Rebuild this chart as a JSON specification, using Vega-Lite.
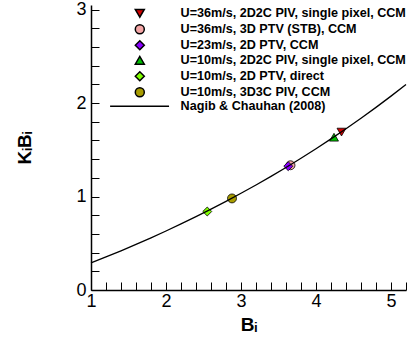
{
  "$schema": "https://vega.github.io/schema/vega-lite/v6.json",
  "width": 315,
  "height": 285,
  "autosize": "none",
  "padding": {"left": 91, "top": 5, "right": 2, "bottom": 64},
  "background": "white",
  "config": {
    "view": {"stroke": null},
    "font": "Liberation Sans",
    "axis": {
      "grid": false,
      "domainColor": "black",
      "domainWidth": 1.5,
      "tickColor": "black",
      "tickWidth": 1,
      "tickSize": -8,
      "labelColor": "black",
      "labelFont": "Liberation Sans",
      "labelFontSize": 18,
      "labelOverlap": false,
      "labelFlush": false,
      "titleColor": "black",
      "titleFont": "Liberation Sans",
      "titleFontWeight": "bold",
      "titleFontSize": 19
    }
  },
  "datasets": {
    "curve": [
      {"B": 1.0, "KB": 0.2895},
      {"B": 1.2, "KB": 0.3534},
      {"B": 1.4, "KB": 0.4195},
      {"B": 1.6, "KB": 0.4877},
      {"B": 1.8, "KB": 0.5584},
      {"B": 2.0, "KB": 0.6313},
      {"B": 2.2, "KB": 0.7068},
      {"B": 2.4, "KB": 0.7848},
      {"B": 2.6, "KB": 0.8655},
      {"B": 2.8, "KB": 0.9488},
      {"B": 3.0, "KB": 1.035},
      {"B": 3.2, "KB": 1.1242},
      {"B": 3.4, "KB": 1.2163},
      {"B": 3.6, "KB": 1.3115},
      {"B": 3.8, "KB": 1.41},
      {"B": 4.0, "KB": 1.5118},
      {"B": 4.2, "KB": 1.617},
      {"B": 4.4, "KB": 1.7258},
      {"B": 4.6, "KB": 1.8383},
      {"B": 4.8, "KB": 1.9545},
      {"B": 5.0, "KB": 2.0748},
      {"B": 5.2, "KB": 2.199}
    ],
    "measurements": [
      {"series": "U=36m/s, 2D2C PIV, single pixel, CCM", "B": 4.34, "KB": 1.69},
      {"series": "U=36m/s, 3D PTV (STB), CCM", "B": 3.66, "KB": 1.335},
      {"series": "U=23m/s, 2D PTV, CCM", "B": 3.63, "KB": 1.325},
      {"series": "U=10m/s, 2D2C PIV, single pixel, CCM", "B": 4.24, "KB": 1.635},
      {"series": "U=10m/s, 2D PTV, direct", "B": 2.55, "KB": 0.84},
      {"series": "U=10m/s, 3D3C PIV, CCM", "B": 2.88, "KB": 0.98}
    ]
  },
  "layer": [
    {
      "data": {"name": "measurements"},
      "mark": {"type": "point", "filled": true, "size": 80, "opacity": 1, "stroke": "black", "strokeWidth": 0.8},
      "encoding": {
        "x": {
          "field": "B",
          "type": "quantitative",
          "scale": {"domain": [1, 5.2], "nice": false, "zero": false},
          "axis": {
            "title": "Bᵢ",
            "titlePadding": 5,
            "values": [1, 1.2, 1.4, 1.6, 1.8, 2, 2.2, 2.4, 2.6, 2.8, 3, 3.2, 3.4, 3.6, 3.8, 4, 4.2, 4.4, 4.6, 4.8, 5, 5.2],
            "tickCount": 1000,
            "labelPadding": 10,
            "labelOverlap": false,
            "labelExpr": "abs(datum.value - round(datum.value)) < 0.001 ? format(datum.value, 'd') : ''",
            "encode": {
              "ticks": {"update": {"y2": [{"test": "abs(datum.value - round(datum.value)) < 0.001", "value": -8}, {"value": -4}]}}
            }
          }
        },
        "y": {
          "field": "KB",
          "type": "quantitative",
          "scale": {"domain": [0, 3.05], "nice": false},
          "axis": {
            "title": "KᵢBᵢ",
            "titlePadding": 41,
            "values": [0, 0.2, 0.4, 0.6, 0.8, 1, 1.2, 1.4, 1.6, 1.8, 2, 2.2, 2.4, 2.6, 2.8, 3],
            "tickCount": 1000,
            "labelPadding": 13,
            "labelOverlap": false,
            "labelExpr": "abs(datum.value - round(datum.value)) < 0.001 ? format(datum.value, 'd') : ''",
            "encode": {
              "ticks": {"update": {"x2": [{"test": "abs(datum.value - round(datum.value)) < 0.001", "value": 8}, {"value": 4}]}}
            }
          }
        },
        "color": {
          "field": "series",
          "type": "nominal",
          "scale": {
            "domain": [
              "U=36m/s, 2D2C PIV, single pixel, CCM",
              "U=36m/s, 3D PTV (STB), CCM",
              "U=23m/s, 2D PTV, CCM",
              "U=10m/s, 2D2C PIV, single pixel, CCM",
              "U=10m/s, 2D PTV, direct",
              "U=10m/s, 3D3C PIV, CCM",
              "Nagib & Chauhan (2008)"
            ],
            "range": ["#d00000", "#f4a6a6", "#8a00ff", "#00c000", "#80ff00", "#a89c00", "black"]
          },
          "legend": {
            "title": null,
            "orient": "none",
            "legendX": 42.5,
            "legendY": 2,
            "symbolSize": 81,
            "labelFont": "Liberation Sans",
            "labelFontWeight": "bold",
            "labelFontSize": 12.6,
            "labelColor": "black",
            "labelLimit": 400,
            "labelOffset": 34.5,
            "rowPadding": 0,
            "padding": 0,
            "encode": {
              "symbols": {
                "update": {
                  "stroke": {"value": "black"},
                  "strokeWidth": [{"test": "datum.value === 'Nagib & Chauhan (2008)'", "value": 1.3}, {"value": 0.8}],
                  "opacity": {"value": 1}
                }
              }
            }
          }
        },
        "shape": {
          "field": "series",
          "type": "nominal",
          "scale": {
            "domain": [
              "U=36m/s, 2D2C PIV, single pixel, CCM",
              "U=36m/s, 3D PTV (STB), CCM",
              "U=23m/s, 2D PTV, CCM",
              "U=10m/s, 2D2C PIV, single pixel, CCM",
              "U=10m/s, 2D PTV, direct",
              "U=10m/s, 3D3C PIV, CCM",
              "Nagib & Chauhan (2008)"
            ],
            "range": ["triangle-down", "circle", "diamond", "triangle-up", "diamond", "circle", "M-6.6,0H6.5"]
          }
        }
      }
    },
    {
      "data": {"name": "curve"},
      "mark": {"type": "line", "color": "black", "strokeWidth": 1.3},
      "encoding": {
        "x": {"field": "B", "type": "quantitative"},
        "y": {"field": "KB", "type": "quantitative"}
      }
    }
  ]
}
